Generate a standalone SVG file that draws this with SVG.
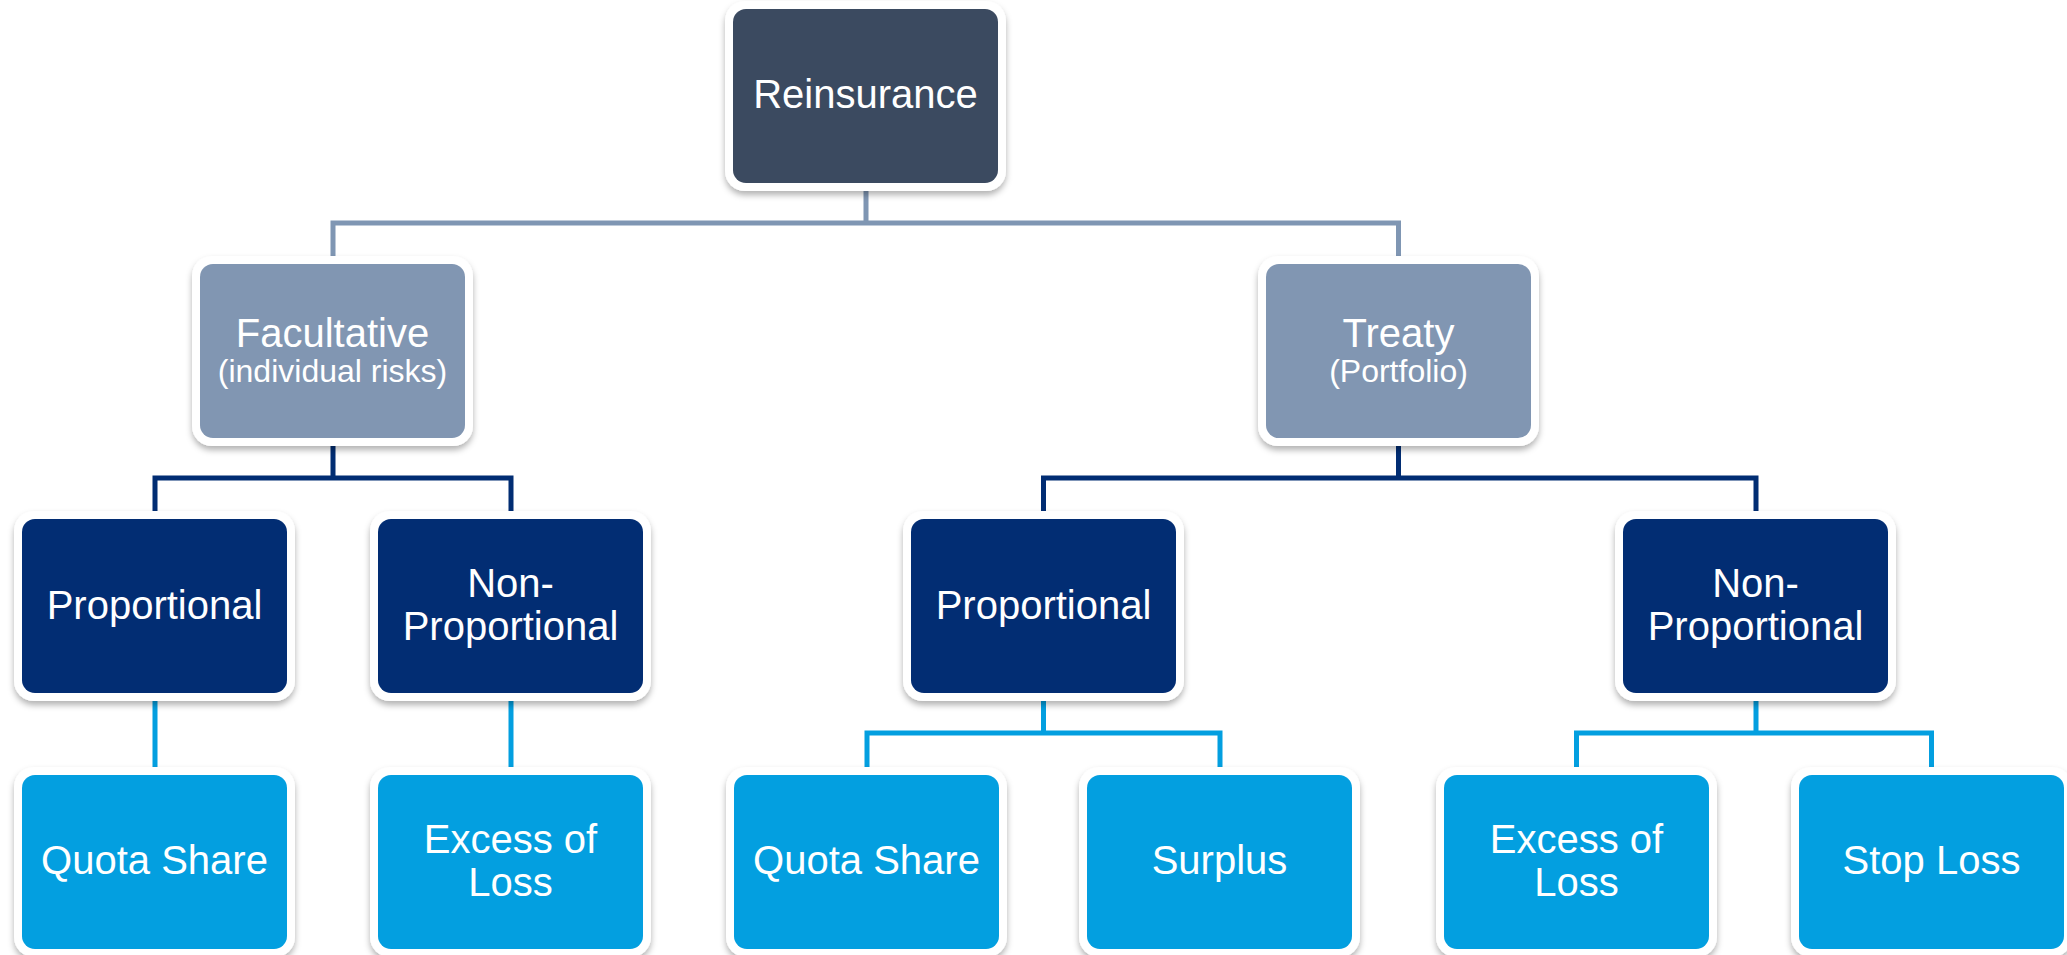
<svg xmlns="http://www.w3.org/2000/svg" width="2067" height="955" viewBox="0 0 2067 955">
<defs>
<filter id="sh" x="-10%" y="-10%" width="120%" height="130%">
<feDropShadow dx="0" dy="4" stdDeviation="3" flood-color="#000" flood-opacity="0.3"/>
</filter>
<style>
.bd{fill:#fff;filter:url(#sh)}
.t{font-family:"Liberation Sans",Arial,sans-serif;fill:#fff;text-anchor:middle;font-size:40px}
.s{font-size:32px}
.c{fill:none;stroke-width:5;stroke-linejoin:miter;stroke-linecap:butt}
.g{stroke:#7F96B3}
.d{stroke:#012D73}
.l{stroke:#039FE0}
.f0{fill:#3B4A60}
.f1{fill:#8196B2}
.f2{fill:#022D73}
.f3{fill:#039FE0}
</style>
</defs>
<rect width="2067" height="955" fill="#fff"/>
<g id="connectors">
<path class="c g" d="M866,186V223M333,260V223H1398.5V260"/>
<path class="c d" d="M333,440V478M155,522V478H511V522M1398.5,440V478M1043.5,522V478H1756V522"/>
<path class="c l" d="M155,696V778M511,696V778M1043.5,696V733M867,778V733H1220V778M1756,696V733M1576.5,778V733H1931.5V778"/>
</g>
<g id="reinsurance">
<rect class="bd" x="725" y="1" width="281" height="190" rx="20"/>
<rect class="f0" x="733" y="9" width="265" height="174" rx="13"/>
<text class="t" x="865.5" y="108">Reinsurance</text>
</g>
<g id="facultative">
<rect class="bd" x="192" y="256" width="281" height="190" rx="20"/>
<rect class="f1" x="200" y="264" width="265" height="174" rx="13"/>
<text class="t" x="332.5" y="347">Facultative</text>
<text class="t s" x="332.5" y="382">(individual risks)</text>
</g>
<g id="treaty">
<rect class="bd" x="1258" y="256" width="281" height="190" rx="20"/>
<rect class="f1" x="1266" y="264" width="265" height="174" rx="13"/>
<text class="t" x="1398.5" y="347">Treaty</text>
<text class="t s" x="1398.5" y="382">(Portfolio)</text>
</g>
<g id="fac-proportional">
<rect class="bd" x="14" y="511" width="281" height="190" rx="20"/>
<rect class="f2" x="22" y="519" width="265" height="174" rx="13"/>
<text class="t" x="154.5" y="619">Proportional</text>
</g>
<g id="fac-nonproportional">
<rect class="bd" x="370" y="511" width="281" height="190" rx="20"/>
<rect class="f2" x="378" y="519" width="265" height="174" rx="13"/>
<text class="t" x="510.5" y="597">Non-</text>
<text class="t" x="510.5" y="640">Proportional</text>
</g>
<g id="treaty-proportional">
<rect class="bd" x="903" y="511" width="281" height="190" rx="20"/>
<rect class="f2" x="911" y="519" width="265" height="174" rx="13"/>
<text class="t" x="1043.5" y="619">Proportional</text>
</g>
<g id="treaty-nonproportional">
<rect class="bd" x="1615" y="511" width="281" height="190" rx="20"/>
<rect class="f2" x="1623" y="519" width="265" height="174" rx="13"/>
<text class="t" x="1755.5" y="597">Non-</text>
<text class="t" x="1755.5" y="640">Proportional</text>
</g>
<g id="fac-quota-share">
<rect class="bd" x="14" y="767" width="281" height="190" rx="20"/>
<rect class="f3" x="22" y="775" width="265" height="174" rx="13"/>
<text class="t" x="154.5" y="874">Quota Share</text>
</g>
<g id="fac-excess-of-loss">
<rect class="bd" x="370" y="767" width="281" height="190" rx="20"/>
<rect class="f3" x="378" y="775" width="265" height="174" rx="13"/>
<text class="t" x="510.5" y="853">Excess of</text>
<text class="t" x="510.5" y="896">Loss</text>
</g>
<g id="treaty-quota-share">
<rect class="bd" x="726" y="767" width="281" height="190" rx="20"/>
<rect class="f3" x="734" y="775" width="265" height="174" rx="13"/>
<text class="t" x="866.5" y="874">Quota Share</text>
</g>
<g id="treaty-surplus">
<rect class="bd" x="1079" y="767" width="281" height="190" rx="20"/>
<rect class="f3" x="1087" y="775" width="265" height="174" rx="13"/>
<text class="t" x="1219.5" y="874">Surplus</text>
</g>
<g id="treaty-excess-of-loss">
<rect class="bd" x="1436" y="767" width="281" height="190" rx="20"/>
<rect class="f3" x="1444" y="775" width="265" height="174" rx="13"/>
<text class="t" x="1576.5" y="853">Excess of</text>
<text class="t" x="1576.5" y="896">Loss</text>
</g>
<g id="treaty-stop-loss">
<rect class="bd" x="1791" y="767" width="281" height="190" rx="20"/>
<rect class="f3" x="1799" y="775" width="265" height="174" rx="13"/>
<text class="t" x="1931.5" y="874">Stop Loss</text>
</g>
</svg>
